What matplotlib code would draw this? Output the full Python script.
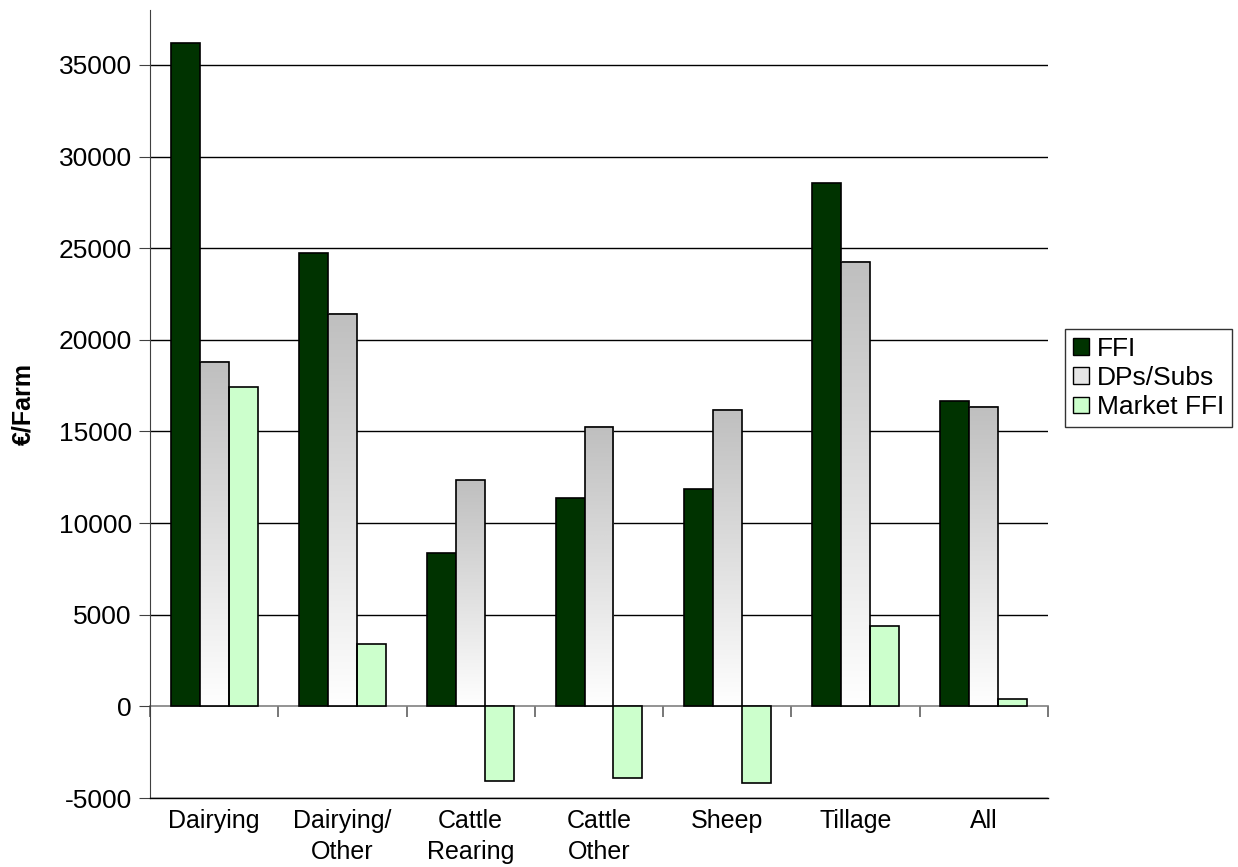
import numpy as np
import matplotlib
matplotlib.use("Agg")
import matplotlib.pyplot as plt
from matplotlib.patches import Patch
from matplotlib.colors import LinearSegmentedColormap

plt.rcParams['font.family'] = ['Liberation Sans', 'DejaVu Sans']

categories = ["Dairying", "Dairying/\nOther", "Cattle\nRearing", "Cattle\nOther", "Sheep", "Tillage", "All"]
ffi = [36200, 24750, 8360, 11350, 11880, 28570, 16690]
dps_subs = [18800, 21400, 12330, 15260, 16170, 24230, 16330]
market_ffi = [17420, 3380, -4090, -3890, -4160, 4360, 380]
series_names = ["FFI", "DPs/Subs", "Market FFI"]
yticks = [-5000, 0, 5000, 10000, 15000, 20000, 25000, 30000, 35000]

FS = 18
fig = plt.figure(figsize=(12.38, 8.67), dpi=100)
ax = fig.add_axes([150/1238, 69/867, (1048-150)/1238, (798-10)/867])

ymin, ymax = -5000, 38000
ax.set_xlim(-0.5, len(categories) - 0.5)
ax.set_ylim(ymin, ymax)

# gridlines
for t in yticks:
    if t == 0:
        continue
    ax.axhline(t, color='black', lw=1.0, zorder=1)

x = np.arange(len(categories))
w = 0.226
ax.bar(x - w, ffi, w, color='#003300', edgecolor='black', lw=1.2, zorder=3)
# gradient DPs bars
cmap = LinearSegmentedColormap.from_list('g', ['#ffffff', '#bfbfbf'])
grad = np.linspace(0, 1, 256).reshape(-1, 1)
for xi, v in zip(x, dps_subs):
    ax.imshow(grad, cmap=cmap, extent=(xi - w/2, xi + w/2, 0, v), origin='lower',
              aspect='auto', zorder=3, interpolation='bilinear')
ax.bar(x, dps_subs, w, facecolor='none', edgecolor='black', lw=1.2, zorder=4)
ax.bar(x + w, market_ffi, w, color='#ccffcc', edgecolor='black', lw=1.2, zorder=3)
ax.set_xlim(-0.5, len(categories) - 0.5)
ax.set_ylim(ymin, ymax)

# spines
for s in ['top', 'right']:
    ax.spines[s].set_visible(False)
ax.spines['left'].set_color('#404040')
ax.spines['bottom'].set_color('black')
ax.spines['bottom'].set_linewidth(1.0)

ax.set_yticks(yticks)
ax.set_yticklabels([str(t) for t in yticks], fontsize=19)
ax.tick_params(axis='y', direction='out', length=8, color='#404040', pad=5)
ax.set_xticks(x)
ax.set_xticklabels(categories, fontsize=FS, linespacing=1.35)
ax.tick_params(axis='x', length=0, pad=8)

# zero axis line with category boundary ticks
frac0 = (0 - ymin) / (ymax - ymin)
sec = ax.secondary_xaxis(frac0)
sec.spines['bottom'].set_color('#808080')
sec.spines['bottom'].set_linewidth(1.2)
sec.set_xticks(np.arange(len(categories) + 1) - 0.5)
sec.tick_params(direction='out', length=8, color='#606060', labelbottom=False, width=1.2)
sec.set_xticklabels([])

ax.set_ylabel("€/Farm", fontsize=FS, fontweight='bold')
ax.yaxis.set_label_coords(-0.128, 0.5)

handles = [Patch(facecolor='#003300', edgecolor='black'),
           Patch(facecolor='#e6e6e6', edgecolor='black'),
           Patch(facecolor='#ccffcc', edgecolor='black')]
leg = fig.legend(handles, series_names, loc='center left', bbox_to_anchor=(1065/1238, (867-378)/867),
                 fontsize=19, frameon=True, fancybox=False, edgecolor='black',
                 handlelength=0.6, handleheight=0.6, handletextpad=0.3,
                 labelspacing=0.2, borderpad=0.3, borderaxespad=0)
leg.get_frame().set_linewidth(1.0)

fig.savefig("out.png", dpi=100)
